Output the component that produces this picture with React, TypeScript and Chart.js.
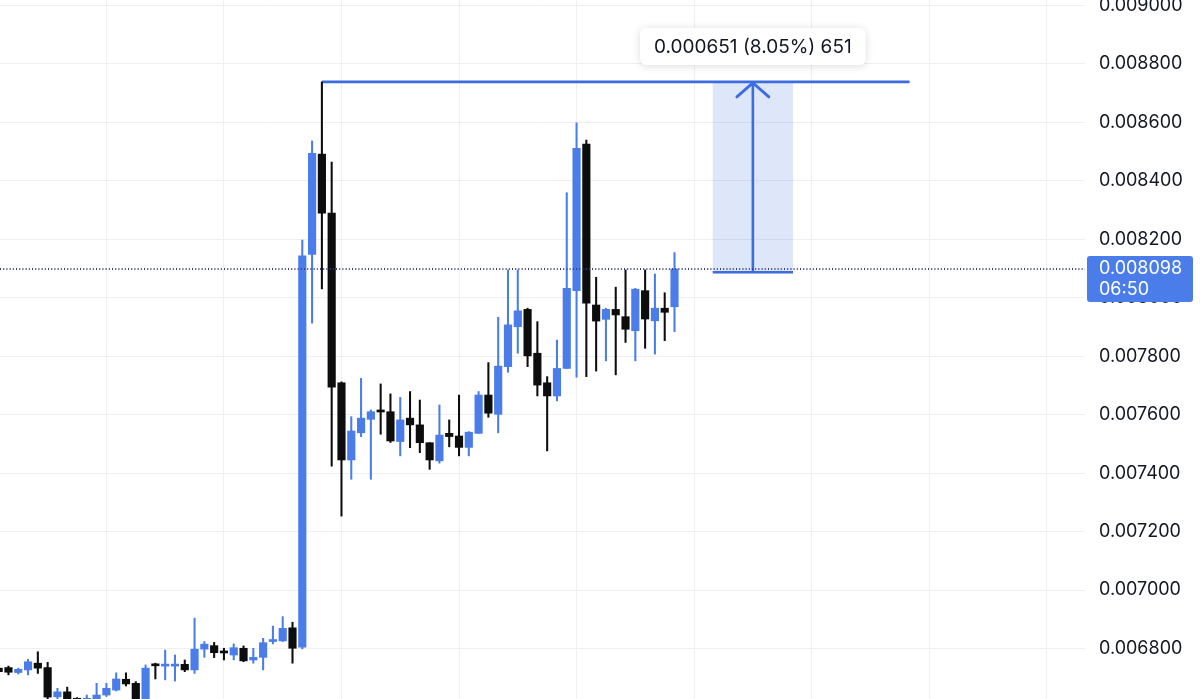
import React, { useEffect, useRef } from "react";
import { Chart, registerables } from "chart.js";

Chart.register(...registerables);

// ---- candle data (one entry per candle, left to right) ----
const OPEN = [
  0.006733, 0.006735, 0.006718, 0.006727, 0.00675, 0.006735, 0.006635, 0.006652, 0.00663, 0.006615,
  0.006625, 0.006641, 0.006658, 0.006695, 0.006681, 0.00662, 0.006747, 0.00674, 0.00674, 0.006746,
  0.006727, 0.006798, 0.00681, 0.006788, 0.006778, 0.006801, 0.006761, 0.00677, 0.006824, 0.006826,
  0.006871, 0.006805, 0.008148, 0.008491, 0.008289, 0.007709, 0.007445, 0.007538, 0.007584, 0.007616,
  0.00761, 0.007508, 0.007588, 0.007565, 0.007504, 0.007442, 0.007536, 0.007527, 0.007488, 0.007536,
  0.007667, 0.007601, 0.007764, 0.007901, 0.00796, 0.00781, 0.007709, 0.007664, 0.007758, 0.008024,
  0.008525, 0.007975, 0.007926, 0.00796, 0.007935, 0.007887, 0.008024, 0.007921, 0.007964, 0.007969,
];
const HIGH = [
  0.006735, 0.00674, 0.006733, 0.006763, 0.006789, 0.006753, 0.006664, 0.006668, 0.006632, 0.006641,
  0.006681, 0.006681, 0.006717, 0.006717, 0.006687, 0.006744, 0.00675, 0.006795, 0.006778, 0.006761,
  0.006904, 0.006824, 0.006821, 0.006801, 0.006816, 0.006809, 0.006801, 0.006835, 0.006877, 0.006909,
  0.00689, 0.008197, 0.008536, 0.008738, 0.008464, 0.007712, 0.007593, 0.007724, 0.007616, 0.007705,
  0.007671, 0.007659, 0.007679, 0.00765, 0.007504, 0.007633, 0.007582, 0.007667, 0.007542, 0.007679,
  0.007778, 0.007933, 0.008095, 0.008095, 0.007964, 0.007918, 0.00773, 0.007855, 0.008359, 0.008598,
  0.008539, 0.00807, 0.007964, 0.008036, 0.008095, 0.008032, 0.008095, 0.008081, 0.008017, 0.008154,
];
const LOW = [
  0.006718, 0.00671, 0.006713, 0.00671, 0.006715, 0.006625, 0.006625, 0.00661, 0.00661, 0.0066,
  0.006615, 0.006636, 0.006655, 0.006672, 0.006605, 0.00661, 0.006696, 0.006693, 0.006689, 0.006721,
  0.006715, 0.00677, 0.006769, 0.006761, 0.006761, 0.006755, 0.00675, 0.006727, 0.006816, 0.006824,
  0.00675, 0.006799, 0.007913, 0.00803, 0.007424, 0.007253, 0.007379, 0.007525, 0.007379, 0.007533,
  0.007505, 0.007459, 0.007487, 0.00747, 0.007413, 0.007434, 0.00749, 0.007459, 0.007459, 0.007536,
  0.007591, 0.007538, 0.007745, 0.00781, 0.007764, 0.007664, 0.007476, 0.007647, 0.007758, 0.007728,
  0.00773, 0.007749, 0.007784, 0.007736, 0.007847, 0.007784, 0.007827, 0.007807, 0.007853, 0.007884,
];
const CLOSE = [
  0.006721, 0.006719, 0.006729, 0.006755, 0.006733, 0.006634, 0.006652, 0.00662, 0.006622, 0.00663,
  0.006641, 0.006664, 0.006696, 0.006679, 0.00662, 0.006733, 0.006741, 0.006742, 0.006742, 0.006727,
  0.006798, 0.006815, 0.006786, 0.006785, 0.006803, 0.006758, 0.00677, 0.00682, 0.006829, 0.006869,
  0.006801, 0.008143, 0.008494, 0.008289, 0.007694, 0.007445, 0.007544, 0.007588, 0.00761, 0.007609,
  0.00751, 0.007582, 0.007565, 0.007504, 0.007445, 0.00753, 0.007525, 0.007488, 0.00754, 0.007667,
  0.007605, 0.007766, 0.007907, 0.007955, 0.007801, 0.007701, 0.007664, 0.007758, 0.008032, 0.008511,
  0.007981, 0.00792, 0.00796, 0.007941, 0.007892, 0.008029, 0.007927, 0.007964, 0.00795, 0.008098,
];

// ---- axis ticks ----
const Y_TICKS = [
  0.0068, 0.007, 0.0072, 0.0074, 0.0076, 0.0078, 0.008, 0.0082, 0.0084, 0.0086, 0.0088, 0.009,
];
const X_GRID = [11, 23, 35, 47, 59, 71, 83, 95, 107];
const X_MIN = 0.137;
const X_MAX = 110.91;
const Y_MIN = 0.0066275;
const Y_MAX = 0.0090181;

// ---- last price marker ----
const LAST_PRICE = 0.008098;
const COUNTDOWN = "06:50";

// ---- price range measurement ----
const MEASURE_FROM = 0.008087;
const MEASURE_TO = 0.008738;
const MEASURE_LINE_START = 33;
const MEASURE_LINE_END = 93;
const MEASURE_BOX_LEFT = 72.9;
const MEASURE_BOX_RIGHT = 81.1;
const MEASURE_ARROW = 77;

const UP = "#4a7de9";
const DOWN = "#0d0d0d";
const TOOL = "#3b6ce0";
const FONT = "Inter, 'Noto Sans', sans-serif";

const measurePlugin = {
  id: "measureTool",
  beforeDatasetsDraw(chart: any) {
    const ctx = chart.ctx;
    const xs = chart.scales.x;
    const ys = chart.scales.y;
    const yTop = ys.getPixelForValue(MEASURE_TO);
    const yBot = ys.getPixelForValue(MEASURE_FROM);
    const bl = xs.getPixelForValue(MEASURE_BOX_LEFT);
    const br = xs.getPixelForValue(MEASURE_BOX_RIGHT);
    const ax = xs.getPixelForValue(MEASURE_ARROW);
    ctx.save();
    ctx.fillStyle = "rgba(59,108,224,0.17)";
    ctx.fillRect(bl, yTop, br - bl, yBot - yTop);
    ctx.strokeStyle = TOOL;
    ctx.lineWidth = 2.6;
    ctx.lineCap = "butt";
    ctx.beginPath();
    ctx.moveTo(xs.getPixelForValue(MEASURE_LINE_START), yTop);
    ctx.lineTo(xs.getPixelForValue(MEASURE_LINE_END), yTop);
    ctx.stroke();
    ctx.beginPath();
    ctx.moveTo(bl, yBot);
    ctx.lineTo(br, yBot);
    ctx.stroke();
    ctx.beginPath();
    ctx.moveTo(ax, yBot);
    ctx.lineTo(ax, yTop + 1);
    ctx.stroke();
    ctx.lineCap = "round";
    ctx.lineJoin = "round";
    ctx.lineWidth = 2.8;
    ctx.beginPath();
    ctx.moveTo(ax - 16, yTop + 15);
    ctx.lineTo(ax, yTop + 1);
    ctx.lineTo(ax + 16, yTop + 15);
    ctx.stroke();
    ctx.restore();
  },
  afterDraw(chart: any) {
    const ctx = chart.ctx;
    const xs = chart.scales.x;
    const ys = chart.scales.y;
    // measurement label
    const diff = MEASURE_TO - MEASURE_FROM;
    const pct = (diff / MEASURE_FROM) * 100;
    const label = `${diff.toFixed(6)} (${pct.toFixed(2)}%) ${Math.round(diff * 1e6)}`;
    const yTop = ys.getPixelForValue(MEASURE_TO);
    const ax = xs.getPixelForValue(MEASURE_ARROW);
    ctx.save();
    ctx.font = `19px ${FONT}`;
    const tw = ctx.measureText(label).width;
    const bw = tw + 28;
    const bh = 37;
    const bx = ax - bw / 2;
    const by = yTop - 17 - bh;
    ctx.shadowColor = "rgba(0,0,0,0.14)";
    ctx.shadowBlur = 8;
    ctx.shadowOffsetY = 1;
    ctx.fillStyle = "#ffffff";
    ctx.beginPath();
    ctx.roundRect(bx, by, bw, bh, 6);
    ctx.fill();
    ctx.shadowColor = "transparent";
    ctx.fillStyle = "#131722";
    ctx.textAlign = "center";
    ctx.textBaseline = "middle";
    ctx.fillText(label, ax, by + bh / 2 + 0.5);

    // last price box on the axis
    ctx.font = `18px ${FONT}`;
    const py = ys.getPixelForValue(LAST_PRICE);
    const left = ys.left + 2;
    ctx.fillStyle = UP;
    ctx.beginPath();
    ctx.roundRect(left, py - 13, 106, 46, 3);
    ctx.fill();
    ctx.fillStyle = "#ffffff";
    ctx.textAlign = "left";
    ctx.textBaseline = "middle";
    ctx.fillText(LAST_PRICE.toFixed(6), ys.left + 14, py);
    ctx.fillText(COUNTDOWN, ys.left + 14, py + 21);
    ctx.restore();
  },
};

export default function App() {
  const ref = useRef<HTMLCanvasElement | null>(null);

  useEffect(() => {
    document.body.style.margin = "0";
    const idx = OPEN.map((_, i) => i);
    const colors = idx.map((i) => (CLOSE[i] >= OPEN[i] ? UP : DOWN));
    const chart = new Chart(ref.current as HTMLCanvasElement, {
      type: "bar",
      data: {
        datasets: [
          {
            type: "line",
            data: [
              { x: X_MIN, y: LAST_PRICE },
              { x: X_MAX, y: LAST_PRICE },
            ],
            borderColor: "#3a3c8a",
            borderWidth: 2,
            borderDash: [1, 2.2],
            pointRadius: 0,
          } as any,
          {
            data: idx.map((i) => ({ x: i, y: [OPEN[i], CLOSE[i]] })),
            backgroundColor: colors,
            borderWidth: 0,
            barThickness: 7.5,
            grouped: false,
            minBarLength: 2,
          } as any,
          {
            data: idx.map((i) => ({ x: i, y: [LOW[i], HIGH[i]] })),
            backgroundColor: colors,
            borderWidth: 0,
            barThickness: 1.4,
            grouped: false,
          } as any,
        ],
      },
      options: {
        responsive: false,
        animation: false,
        devicePixelRatio: 1,
        layout: { padding: 0 },
        plugins: { legend: { display: false }, tooltip: { enabled: false } },
        scales: {
          x: {
            type: "linear",
            min: X_MIN,
            max: X_MAX,
            offset: false,
            border: { display: false },
            grid: { color: "#efeff2", lineWidth: 1, drawTicks: false, offset: false },
            ticks: { display: false },
            afterBuildTicks: (s: any) => {
              s.ticks = X_GRID.map((v) => ({ value: v }));
            },
            afterFit: (s: any) => {
              s.height = 0;
              s.paddingLeft = 0;
              s.paddingRight = 0;
            },
          },
          y: {
            type: "linear",
            position: "right",
            min: Y_MIN,
            max: Y_MAX,
            border: { display: false },
            grid: { color: "#efeff2", lineWidth: 1, drawTicks: false },
            ticks: {
              padding: 14,
              color: "#131722",
              font: { family: FONT, size: 18 },
              callback: (v: any) => Number(v).toFixed(6),
            },
            afterBuildTicks: (s: any) => {
              s.ticks = Y_TICKS.map((v) => ({ value: v }));
            },
            afterFit: (s: any) => {
              s.width = 115;
              s.paddingTop = 0;
              s.paddingBottom = 0;
            },
          },
        },
      } as any,
      plugins: [measurePlugin],
    });
    return () => chart.destroy();
  }, []);

  return (
    <div style={{ position: "fixed", left: 0, top: 0, width: 1200, height: 699, background: "#fff" }}>
      <canvas ref={ref} width={1200} height={699} style={{ display: "block" }} />
    </div>
  );
}
